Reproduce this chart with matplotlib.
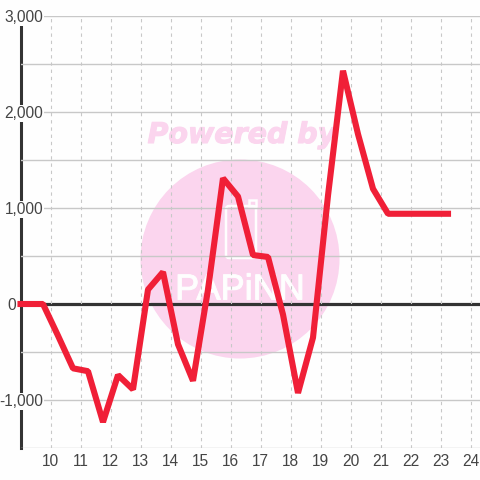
import matplotlib
matplotlib.use("Agg")
import matplotlib.pyplot as plt
import matplotlib.patheffects as pe
from matplotlib.patches import Circle, FancyBboxPatch, Rectangle

hours = [9.0, 9.75, 10.25, 10.75, 11.25, 11.75, 12.25, 12.75, 13.25, 13.75, 14.25, 14.75,
         15.25, 15.75, 16.25, 16.75, 17.25, 17.75, 18.25, 18.75, 19.25, 19.75, 20.25,
         20.75, 21.25, 21.75, 22.25, 22.75, 23.25]
values = [0, 0, -330, -670, -700, -1230, -740, -890, 150, 333, -420, -800,
          150, 1310, 1120, 510, 490, -110, -927, -350, 1130, 2430, 1770,
          1200, 940, 940, 940, 940, 940]
x_ticks = list(range(10, 25))
y_major = [-1000, 0, 1000, 2000, 3000]
y_minor = [-1500, -500, 500, 1500, 2500]
y_labels = ["-1,000", "0", "1,000", "2,000", "3,000"]

W = H = 480
plt.rcParams["font.family"] = ["Liberation Sans", "DejaVu Sans"]
fig = plt.figure(figsize=(4.8, 4.8), dpi=100, facecolor="#fefefe")
L, R, T, B = 20.5, 480, 16, 448
ax = fig.add_axes([L/W, 1-B/H, (R-L)/W, (B-T)/H], facecolor="none")
ax.set_xlim(9, 9 + (R-L)/30)
ax.set_ylim(-1500, 3000)

PINK = "#fbd5ee"
WHITE = "#fefefe"
# watermark (figure pixel coordinates)
bg = fig.add_axes([0, 0, 1, 1], zorder=-1)
bg.set_xlim(0, W); bg.set_ylim(H, 0); bg.axis("off")
bg.add_patch(Circle((240, 259), 99.5, fc=PINK, ec="none"))
bg.text(242, 135, "Powered by", color=PINK, fontsize=20.5, style="italic", weight="bold",
        family="DejaVu Sans", ha="center", va="center",
        path_effects=[pe.withStroke(linewidth=0.8, foreground=PINK)])
bg.add_patch(FancyBboxPatch((226, 206), 30, 52, boxstyle="round,pad=0,rounding_size=3",
                            fc="none", ec=WHITE, lw=1.8))
bg.add_patch(Rectangle((249, 200), 7, 6, fc="none", ec=WHITE, lw=1.8))
bg.text(240, 290, "PAPiNN", color=WHITE, fontsize=26, family="Liberation Sans",
        ha="center", va="center",
        path_effects=[pe.withStroke(linewidth=0.7, foreground=WHITE)])

for s in ("top", "right", "bottom"):
    ax.spines[s].set_visible(False)
ax.spines["left"].set_color("#333333")
ax.spines["left"].set_linewidth(2.2)
ax.spines["left"].set_zorder(0.4)

ax.set_xticks(x_ticks)
ax.set_yticks(y_major)
ax.set_yticklabels(y_labels)
ax.set_yticks(y_minor, minor=True)
ax.tick_params(axis="both", which="both", length=0)
ax.tick_params(axis="x", labelsize=11.2, labelcolor="#444444", pad=4.5)
ax.tick_params(axis="y", labelsize=11.2, labelcolor="#444444", pad=-16.2)
for lab in ax.get_yticklabels():
    lab.set_bbox(dict(fc=WHITE, ec="none", pad=0.5))
ax.xaxis.grid(True, color="#c8c8c8", lw=0.8, ls=(0, (3, 3.5)))
ax.yaxis.grid(True, which="both", color="#c8c8c8", lw=1.0)
ax.set_axisbelow(False)
for tick in ax.yaxis.get_major_ticks():
    if tick.get_loc() == 0:
        tick.gridline.set_visible(False)
        tick.set_pad(3.2)
ax.axhline(0, color="#333333", lw=2.3, zorder=1.5)
ax.plot(hours, values, color="#f01f37", lw=4.4, solid_joinstyle="bevel",
        solid_capstyle="projecting", clip_on=False, zorder=3)
fig.savefig("out.png", dpi=100, facecolor=fig.get_facecolor())
